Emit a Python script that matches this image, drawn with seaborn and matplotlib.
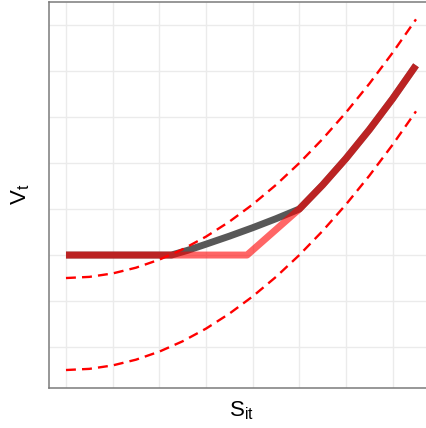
import matplotlib
matplotlib.use("Agg")
import matplotlib.pyplot as plt
import seaborn as sns
import pandas as pd

# ---- data ----
band_x = [0.0, 0.25, 0.5, 0.75, 1.0, 1.25, 1.5, 1.75, 2.0, 2.25, 2.5, 2.75, 3.0, 3.25, 3.5, 3.75]
upper_y = [-0.25, -0.2375, -0.2, -0.1375, -0.05, 0.0625, 0.2, 0.3625, 0.55, 0.7625,
           1.0, 1.2625, 1.55, 1.8625, 2.2, 2.5625]
lower_y = [-1.25, -1.2375, -1.2, -1.1375, -1.05, -0.9375, -0.8, -0.6375, -0.45, -0.2375,
           0.0, 0.2625, 0.55, 0.8625, 1.2, 1.5625]

grey_x = [0.0, 1.13, 1.3, 1.5, 1.75, 2.0, 2.25, 2.5, 2.75, 3.0, 3.25, 3.5, 3.75]
grey_y = [0.0, 0.0, 0.05, 0.118, 0.205, 0.297, 0.395, 0.5, 0.7625, 1.05, 1.3625, 1.7, 2.0625]

red_x = [0.0, 1.94, 2.5, 2.75, 3.0, 3.25, 3.5, 3.75]
red_y = [0.0, 0.0, 0.5, 0.7625, 1.05, 1.3625, 1.7, 2.0625]

x_grid = [0.0, 0.5, 1.0, 1.5, 2.0, 2.5, 3.0, 3.5]
y_grid = [-1.0, -0.5, 0.0, 0.5, 1.0, 1.5, 2.0, 2.5]

sns.set_theme(style="white")
plt.rcParams["font.family"] = ["Liberation Sans", "DejaVu Sans"]
plt.rcParams["mathtext.fontset"] = "custom"
plt.rcParams["mathtext.rm"] = "Liberation Sans"
plt.rcParams["mathtext.it"] = "Liberation Sans"
plt.rcParams["lines.solid_capstyle"] = "butt"
plt.rcParams["lines.dash_capstyle"] = "butt"

fig = plt.figure(figsize=(4.26, 4.28), dpi=100)
ax = fig.add_axes([49 / 426, (428 - 387.5) / 428, 384.5 / 426, (387.5 - 1.8) / 428])

band = pd.DataFrame({"x": band_x, "upper": upper_y, "lower": lower_y})
grey = pd.DataFrame({"x": grey_x, "y": grey_y})
red = pd.DataFrame({"x": red_x, "y": red_y})

sns.lineplot(data=grey, x="x", y="y", ax=ax, color="#585858", lw=5.0,
             estimator=None, sort=False, zorder=3)
sns.lineplot(data=red, x="x", y="y", ax=ax, color="red", alpha=0.6, lw=5.0,
             estimator=None, sort=False, zorder=4)
sns.lineplot(data=band, x="x", y="upper", ax=ax, color="red", lw=1.7,
             linestyle=(0, (4.2, 2.6)), estimator=None, zorder=5)
sns.lineplot(data=band, x="x", y="lower", ax=ax, color="red", lw=1.7,
             linestyle=(0, (4.2, 2.6)), estimator=None, zorder=5)

ax.set_xlim(-0.182, 3.9375)
ax.set_ylim(-1.44, 2.753)
ax.set_xticks(x_grid)
ax.set_yticks(y_grid)
ax.set_xticklabels([])
ax.set_yticklabels([])
ax.tick_params(length=0)
ax.grid(True, color="#ebebeb", lw=1.0)
ax.set_axisbelow(True)
for s in ax.spines.values():
    s.set_color("#7a7a7a")
    s.set_linewidth(1.1)

ax.set_xlabel(r"$\mathrm{S}_{\mathrm{it}}$", fontsize=16, labelpad=5, color="black")
ax.set_ylabel(r"$\mathrm{V}_{\mathrm{t}}$", fontsize=16, labelpad=9, color="black")

fig.savefig("out.png", dpi=100)
